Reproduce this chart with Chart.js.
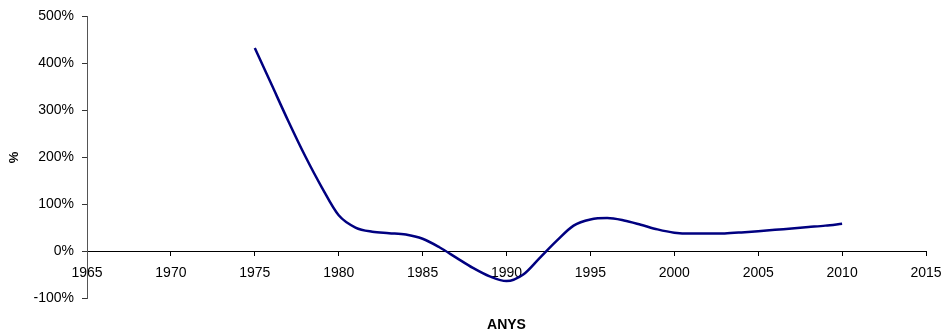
<!DOCTYPE html>
<html>
<head>
<meta charset="utf-8">
<title>Variació percentual per anys</title>
<script src="https://cdn.jsdelivr.net/npm/chart.js@4.4.1/dist/chart.umd.min.js"></script>
<style>
  html, body { margin: 0; padding: 0; background: #ffffff; }
  #wrap { width: 945px; height: 333px; position: relative; }
</style>
</head>
<body>
<div id="wrap"><canvas id="chart"></canvas></div>
<script>
// Years and percentage values of the series
const years = [
  1975, 1976, 1977, 1978, 1979, 1980, 1981, 1982, 1983, 1984,
  1985, 1986, 1987, 1988, 1989, 1990, 1991, 1992, 1993, 1994,
  1995, 1996, 1997, 1998, 1999, 2000, 2001, 2002, 2003, 2004,
  2005, 2006, 2007, 2008, 2009, 2010
];
const values = [
  433, 355, 277, 203, 136, 77, 51, 42, 39, 36,
  27, 9, -13, -35, -53, -63, -49, -13, 23, 55,
  68, 71, 66, 57, 47, 40, 38, 38, 38.5, 40.5,
  43, 46, 49, 52, 55, 59
];

// Axis ranges and labels
const xMin = 1965, xMax = 2015, xStep = 5;
const yMin = -100, yMax = 500, yStep = 100;
const xTitle = 'ANYS';
const yTitle = '%';

const FONT = '"Liberation Sans", Arial, sans-serif';

const points = years.map((y, i) => ({ x: y, y: values[i] }));

// Bottom axis title, kept under the plot since the x axis sits on the 0% line
const bottomTitle = {
  id: 'bottomTitle',
  afterDraw(chart) {
    const { ctx, chartArea } = chart;
    ctx.save();
    ctx.font = 'bold 14px ' + FONT;
    ctx.fillStyle = '#000';
    ctx.textAlign = 'center';
    ctx.textBaseline = 'middle';
    ctx.fillText(xTitle, (chartArea.left + chartArea.right) / 2, 325);
    ctx.restore();
  }
};

new Chart(document.getElementById('chart'), {
  type: 'line',
  data: {
    datasets: [{
      data: points,
      borderColor: '#000080',
      borderWidth: 2.5,
      pointRadius: 0,
      fill: false,
      cubicInterpolationMode: 'monotone'
    }]
  },
  options: {
    responsive: true,
    maintainAspectRatio: false,
    animation: false,
    layout: { padding: { top: 15, right: 19, bottom: 34.5, left: 0 } },
    plugins: {
      legend: { display: false },
      tooltip: { enabled: false }
    },
    scales: {
      x: {
        type: 'linear',
        position: { y: 0 },
        min: xMin,
        max: xMax,
        afterFit(scale) { scale.paddingLeft = 0; scale.paddingRight = 0; },
        ticks: {
          stepSize: xStep,
          padding: 9,
          color: '#000',
          font: { family: FONT, size: 14 },
          callback: v => String(v),
          maxRotation: 0
        },
        grid: {
          display: true,
          drawOnChartArea: false,
          drawTicks: true,
          tickLength: 4,
          color: '#000'
        },
        border: { display: true, color: '#000', width: 1 }
      },
      y: {
        type: 'linear',
        position: 'left',
        min: yMin,
        max: yMax,
        afterFit(scale) { scale.width = 87; },
        ticks: {
          stepSize: yStep,
          padding: 8,
          color: '#000',
          font: { family: FONT, size: 14 },
          callback: v => v + '%'
        },
        grid: {
          display: true,
          drawOnChartArea: false,
          drawTicks: true,
          tickLength: 5,
          color: '#333'
        },
        border: { display: true, color: '#555', width: 1 },
        title: {
          display: true,
          text: yTitle,
          color: '#000',
          font: { family: FONT, size: 13, weight: 'bold' },
          padding: { top: 7, bottom: 0 }
        }
      }
    }
  },
  plugins: [bottomTitle]
});
</script>
</body>
</html>
